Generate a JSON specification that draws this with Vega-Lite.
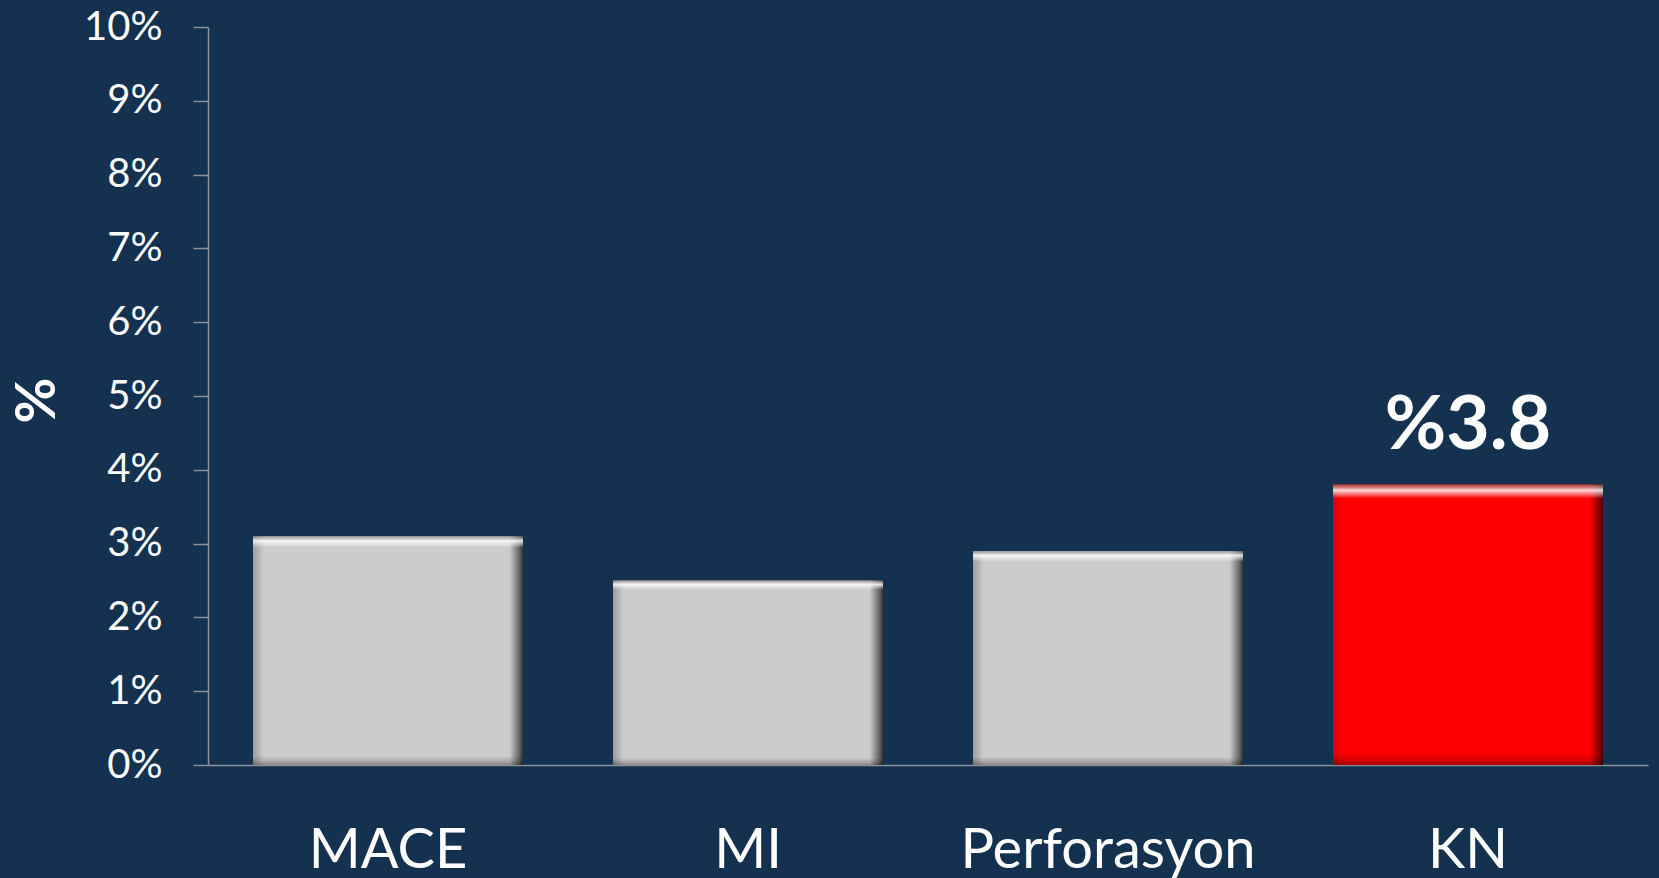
{
  "$schema": "https://vega.github.io/schema/vega-lite/v6.json",
  "width": 1440,
  "height": 738,
  "autosize": "none",
  "padding": {"left": 208, "top": 27, "right": 11, "bottom": 113},
  "background": "#14314F",
  "config": {
    "view": {"stroke": null},
    "font": "Lato"
  },
  "data": {
    "values": [
      {"kategori": "MACE", "oran": 0.031, "etiket": ""},
      {"kategori": "MI", "oran": 0.025, "etiket": ""},
      {"kategori": "Perforasyon", "oran": 0.029, "etiket": ""},
      {"kategori": "KN", "oran": 0.038, "etiket": "%3.8"}
    ]
  },
  "encoding": {
    "x": {
      "field": "kategori",
      "type": "nominal",
      "sort": null,
      "scale": {"paddingInner": 0.25, "paddingOuter": 0.125},
      "axis": {
        "title": null,
        "labelAngle": 0,
        "labelFont": "Lato",
        "labelFontSize": 56,
        "labelColor": "#FFFFFF",
        "labelBaseline": "alphabetic",
        "labelPadding": 102,
        "labelLimit": 0,
        "ticks": false,
        "domainColor": "#8C929B",
        "domainWidth": 1.5
      }
    },
    "y": {
      "field": "oran",
      "type": "quantitative",
      "scale": {"domain": [0, 0.1], "nice": false},
      "axis": {
        "title": "%",
        "titleFont": "Lato",
        "titleFontSize": 56,
        "titleFontWeight": "bold",
        "titleColor": "#FFFFFF",
        "titleX": -171,
        "titleY": 373,
        "titleAngle": 270,
        "titleAlign": "center",
        "titleBaseline": "middle",
        "values": [0, 0.01, 0.02, 0.03, 0.04, 0.05, 0.06, 0.07, 0.08, 0.09, 0.1],
        "format": ".0%",
        "labelFont": "Lato",
        "labelFontSize": 40,
        "labelColor": "#FFFFFF",
        "labelPadding": 31,
        "tickSize": 15,
        "tickColor": "#8C929B",
        "tickWidth": 1.5,
        "domainColor": "#8C929B",
        "domainWidth": 1.5,
        "grid": false
      }
    }
  },
  "layer": [
    {
      "transform": [{"filter": "datum.kategori != 'KN'"}],
      "mark": {
        "type": "bar",
        "color": {
          "gradient": "linear",
          "x1": 0, "y1": 0, "x2": 1, "y2": 0,
          "stops": [
            {"offset": 0, "color": "#9c9c9c"},
            {"offset": 0.04, "color": "#cccccc"},
            {"offset": 0.95, "color": "#cccccc"},
            {"offset": 0.985, "color": "#6a6a6a"},
            {"offset": 1, "color": "#333333"}
          ]
        }
      }
    },
    {
      "transform": [{"filter": "datum.kategori == 'KN'"}],
      "mark": {
        "type": "bar",
        "color": {
          "gradient": "linear",
          "x1": 0, "y1": 0, "x2": 1, "y2": 0,
          "stops": [
            {"offset": 0, "color": "#d40000"},
            {"offset": 0.04, "color": "#ff0000"},
            {"offset": 0.95, "color": "#ff0000"},
            {"offset": 0.985, "color": "#8a0000"},
            {"offset": 1, "color": "#4a0000"}
          ]
        }
      }
    },
    {
      "mark": {
        "type": "bar",
        "color": {
          "gradient": "linear",
          "x1": 0, "y1": 0, "x2": 0, "y2": 1,
          "stops": [
            {"offset": 0, "color": "rgba(120,120,120,0.5)"},
            {"offset": 0.02, "color": "rgba(255,255,255,0.85)"},
            {"offset": 0.05, "color": "rgba(255,255,255,0)"},
            {"offset": 0.96, "color": "rgba(0,0,0,0)"},
            {"offset": 0.985, "color": "rgba(0,0,0,0.18)"},
            {"offset": 1, "color": "rgba(0,0,0,0.35)"}
          ]
        }
      }
    },
    {
      "mark": {
        "type": "text",
        "font": "Lato",
        "fontSize": 75,
        "fontWeight": "bold",
        "color": "#FFFFFF",
        "baseline": "alphabetic",
        "align": "center",
        "dy": -36
      },
      "encoding": {
        "text": {"field": "etiket"}
      }
    }
  ]
}
